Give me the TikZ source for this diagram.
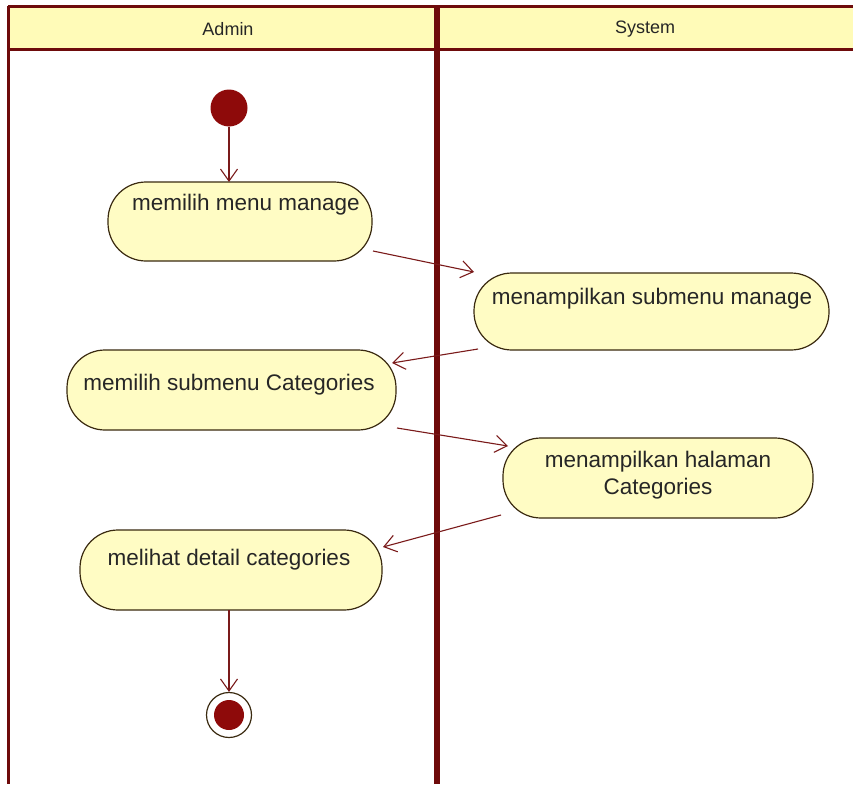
\documentclass[tikz,border=0pt]{standalone}
\usepackage{fontspec}
\setmainfont{Liberation Sans}
\usetikzlibrary{arrows.meta}
\definecolor{frame}{HTML}{6E0B0B}
\definecolor{headfill}{HTML}{FFFBB8}
\definecolor{actfill}{HTML}{FFFCC4}
\definecolor{actline}{HTML}{3A2A10}
\definecolor{flow}{HTML}{7A1A1A}
\definecolor{dot}{HTML}{8E0A0A}
\tikzset{
  lane/.style={draw=frame, line width=3pt},
  divider/.style={draw=frame, line width=6pt},
  act/.style={draw=actline, fill=actfill, line width=1.2pt, rounded corners=38pt},
  acttext/.style={font=\fontsize{22.5}{27}\selectfont, text=black!85, align=center},
  flowline/.style={draw=flow, line width=1.1pt, -{Straight Barb[length=12pt,width=17pt,line width=1.1pt]}},
  headtext/.style={font=\fontsize{18}{22}\selectfont, text=black!85}
}
\begin{document}
\begin{tikzpicture}[x=1pt,y=-1pt]
\useasboundingbox (0,0) rectangle (853,784);
\fill[white] (0,0) rectangle (853,784);
% header band
\fill[headfill] (8,7) rectangle (853,50);
\node[headtext] (hadmin) at (228,29) {Admin};
\node[headtext] (hsys) at (645,29) {System};
% swimlane frame
\draw[lane] (8,7) -- (853,7);
\draw[lane] (8,50) -- (853,50);
\draw[lane] (8,6) -- (8,784);
\draw[divider] (437,6) -- (437,784);
% activities
\draw[act] (108,182) rectangle (372,261);
\node[acttext, anchor=north] (a1) at (246,191) {memilih menu manage};
\draw[act] (474,273) rectangle (829,350);
\node[acttext, anchor=north] (a2) at (652,285) {menampilkan submenu manage};
\draw[act] (67,350) rectangle (396,430);
\node[acttext, anchor=north] (a3) at (229,371) {memilih submenu Categories};
\draw[act] (503,438) rectangle (813,518);
\node[acttext, anchor=north] (a4) at (658,448) {menampilkan halaman\\Categories};
\draw[act] (80,530) rectangle (382,610);
\node[acttext, anchor=north] (a5) at (229,546) {melihat detail categories};
% start and end
\node[circle, fill=dot, minimum size=37pt, inner sep=0pt] (start) at (229,108) {};
\node[circle, draw=actline, fill=white, line width=1.2pt, minimum size=45pt, inner sep=0pt] (end) at (229,715) {};
\node[circle, fill=dot, minimum size=30pt, inner sep=0pt] (endin) at (229,715) {};
% flows
\coordinate (a1top) at (229,182);
\coordinate (a1out) at (373,251);
\coordinate (a2in) at (474,272);
\coordinate (a2out) at (478,349);
\coordinate (a3in) at (392,363);
\coordinate (a3out) at (397,428);
\coordinate (a4in) at (508,446);
\coordinate (a4out) at (501,515);
\coordinate (a5in) at (383,547);
\coordinate (a5bot) at (229,610);
\draw[flowline] (start) -- (a1top);
\draw[flowline] (a1out) -- (a2in);
\draw[flowline] (a2out) -- (a3in);
\draw[flowline] (a3out) -- (a4in);
\draw[flowline] (a4out) -- (a5in);
\draw[flowline] (a5bot) -- (end);
\end{tikzpicture}
\end{document}
